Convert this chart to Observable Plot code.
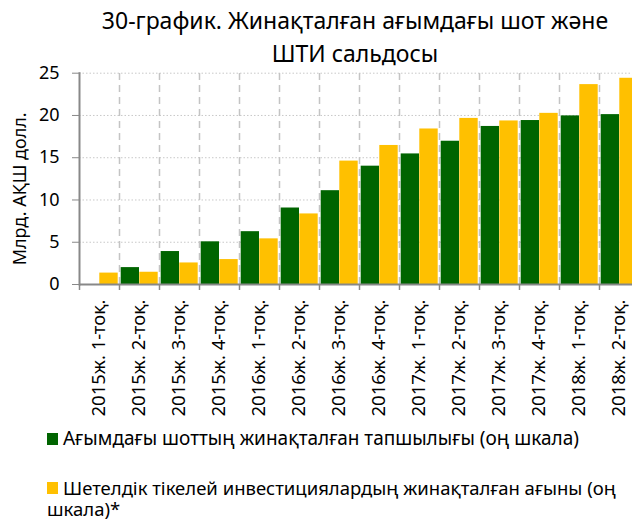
<!DOCTYPE html>
<html><head><meta charset="utf-8">
<script src="https://cdn.jsdelivr.net/npm/d3@7"></script>
<script src="https://cdn.jsdelivr.net/npm/@observablehq/plot@0.6"></script>
<style>
body{margin:0;background:#fff;font-family:"Noto Sans",sans-serif;color:#000;}
#wrap{position:relative;width:632px;height:521px;overflow:hidden;}
#chart{position:absolute;left:0;top:0;}
.t{position:absolute;left:355px;transform:translateX(-50%);white-space:nowrap;font-size:23px;line-height:1;}
.lg{position:absolute;font-size:18.5px;line-height:21px;}
.sw{position:absolute;width:11px;height:12px;}
</style></head>
<body><div id="wrap">
<div id="chart"></div>
<div class="t" style="top:9px">30-график. Жинақталған ағымдағы шот және</div>
<div class="t" style="top:42px">ШТИ сальдосы</div>
<div class="sw" style="left:47px;top:433px;background:#006400"></div>
<div class="lg" id="l1" style="left:63px;top:428px;white-space:nowrap;font-size:19px">Ағымдағы шоттың жинақталған тапшылығы (оң шкала)</div>
<div class="sw" style="left:47px;top:482px;background:#FFC000"></div>
<div class="lg" id="l2" style="left:47px;top:477px;width:585px;text-indent:16px">Шетелдік тікелей инвестициялардың жинақталған ағыны (оң шкала)*</div>
</div>
<script>
const categories = ["2015ж. 1-тоқ.","2015ж. 2-тоқ.","2015ж. 3-тоқ.","2015ж. 4-тоқ.",
  "2016ж. 1-тоқ.","2016ж. 2-тоқ.","2016ж. 3-тоқ.","2016ж. 4-тоқ.",
  "2017ж. 1-тоқ.","2017ж. 2-тоқ.","2017ж. 3-тоқ.","2017ж. 4-тоқ.",
  "2018ж. 1-тоқ.","2018ж. 2-тоқ."];
const currentAccountDeficit = [null, 2.0, 3.9, 5.05, 6.25, 9.05, 11.1, 14.0, 15.45, 16.95, 18.7, 19.4, 19.95, 20.1];
const fdiInflow = [1.35, 1.45, 2.55, 2.95, 5.4, 8.35, 14.6, 16.45, 18.4, 19.65, 19.35, 20.25, 23.65, 24.4];
const yTicks = [0, 5, 10, 15, 20, 25];
const yLabel = "Млрд. АҚШ долл.";

const green = categories.map((c, i) => ({cat: c, v: currentAccountDeficit[i]})).filter(d => d.v != null);
const yellow = categories.map((c, i) => ({cat: c, v: fdiInflow[i]}));

const H = 430;
const plot = Plot.plot({
  width: 632, height: H,
  marginLeft: 79, marginRight: 0, marginTop: 72.7, marginBottom: H - 284,
  style: {fontFamily: "Noto Sans", fontSize: "17px", color: "#000", background: "transparent"},
  x: {type: "band", domain: categories, range: [79, 639], padding: 0},
  y: {domain: [0, 25]},
  marks: [
    Plot.gridY(yTicks.slice(1), {stroke: "#c8c8c8", strokeOpacity: 1, strokeDasharray: "1.5,2"}),
    Plot.ruleX(categories.slice(1), {x: d => d, dx: -20, y1: 0, y2: 25, stroke: "#c4c4c4", strokeWidth: 1.5, strokeDasharray: "7,5"}),
    Plot.barY(green, {x: "cat", y: "v", fill: "#006400", insetLeft: 1.7, insetRight: 20}),
    Plot.barY(yellow, {x: "cat", y: "v", fill: "#FFC000", insetLeft: 20.3, insetRight: 1.3}),
    Plot.ruleX(categories, {x: d => d, dx: -20, y1: 0, y2: 0, insetBottom: -6, stroke: "#888", strokeWidth: 1.5}),
    Plot.ruleY([0], {stroke: "#888", strokeWidth: 2}),
    Plot.frame({anchor: "left", stroke: "#888", strokeWidth: 2}),
    Plot.axisY(yTicks, {tickSize: 7, tickPadding: 13, stroke: "#888", fontSize: 18, label: null}),
    Plot.axisX({tickRotate: -90, tickSize: 0, tickPadding: 15, fontSize: 18.5, label: null}),
    Plot.text([yLabel], {frameAnchor: "left", textAnchor: "middle", dx: -59, dy: 10, rotate: -90, fontSize: 18, text: d => d})
  ]
});
document.getElementById("chart").appendChild(plot);
</script>
</body></html>
